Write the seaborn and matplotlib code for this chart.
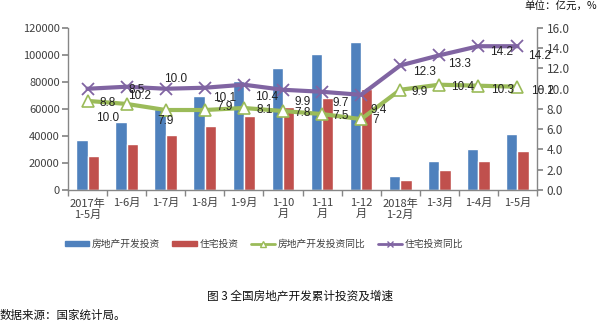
import matplotlib
matplotlib.use("Agg")
import matplotlib.pyplot as plt
from matplotlib.patches import Patch
from matplotlib.lines import Line2D
from matplotlib.ticker import FixedLocator, FormatStrFormatter
import seaborn as sns
import pandas as pd
import numpy as np

categories = ["2017年\n1-5月", "1-6月", "1-7月", "1-8月", "1-9月", "1-10\n月",
              "1-11\n月", "1-12\n月", "2018年\n1-2月", "1-3月", "1-4月", "1-5月"]
dev_invest = [37369, 50610, 59761, 69686, 80644, 90544, 100387, 109799, 10261, 21292, 30592, 41349]
res_invest = [25364, 34185, 40497, 47281, 54727, 61447, 68191, 75148, 7063, 14768, 21124, 29142]
dev_yoy = [8.8, 8.5, 7.9, 7.9, 8.1, 7.8, 7.5, 7.0, 9.9, 10.4, 10.3, 10.2]
res_yoy = [10.0, 10.2, 10.0, 10.1, 10.4, 9.9, 9.7, 9.4, 12.3, 13.3, 14.2, 14.2]
dev_yoy_labels = ["8.8", "8.5", "7.9", "7.9", "8.1", "7.8", "7.5", "7", "9.9", "10.4", "10.3", "10.2"]
res_yoy_labels = ["10.0", "10.2", "10.0", "10.1", "10.4", "9.9", "9.7", "9.4", "12.3", "13.3", "14.2", "14.2"]
series_names = ["房地产开发投资", "住宅投资", "房地产开发投资同比", "住宅投资同比"]

# label offsets in pixels (dx right, dy down)
dev_off = [(20, 2), (10, -14), (0, 11), (20, -3), (21, 2), (20, 2), (19, 2), (15, 1),
           (19, 2), (23, 2), (24, 4), (25, 4)]
res_off = [(20, 29), (13, 9), (10, -10), (20, 10), (23, 12), (20, 12), (19, 11), (18, 15),
           (24, 7), (20, 9), (23, 6), (22, 10)]

BLUE, RED, GREEN, PURPLE = "#4F81BD", "#C0504D", "#9BBB59", "#8064A2"
TXT = "#404040"
SPINE = "#868686"

sns.set_theme(style="white")
plt.rcParams["font.family"] = ["Noto Sans CJK SC", "DejaVu Sans"]

df = pd.DataFrame({
    "cat": categories * 2,
    "value": dev_invest + res_invest,
    "series": [series_names[0]] * 12 + [series_names[1]] * 12,
})

fig = plt.figure(figsize=(6.0, 3.23), dpi=100)
ax = fig.add_axes([68 / 600, 1 - 190 / 323, (537 - 68) / 600, (190 - 28) / 323])

sns.barplot(data=df, x="cat", y="value", hue="series", order=categories,
            hue_order=series_names[:2], palette=[BLUE, RED], width=0.58,
            saturation=1, ax=ax, legend=False)
ax.set_xlim(-0.5, 11.5)
ax.set_ylim(0, 120000)
ax.set_yticks(np.arange(0, 120001, 20000))
ax.set_xlabel("")
ax.set_ylabel("")

ax2 = ax.twinx()
x = np.arange(12)
sns.lineplot(x=x, y=dev_yoy, ax=ax2, color=GREEN, linewidth=3, marker="^",
             markersize=8, markerfacecolor="white", markeredgecolor=GREEN,
             markeredgewidth=1.2)
sns.lineplot(x=x, y=res_yoy, ax=ax2, color=PURPLE, linewidth=3, marker="x",
             markersize=8, markeredgecolor=PURPLE, markeredgewidth=1.3)
ax2.set_ylim(0, 16)
ax2.set_yticks(np.arange(0, 16.1, 2))
ax2.yaxis.set_major_formatter(FormatStrFormatter("%.1f"))
ax2.set_xlim(-0.5, 11.5)

for i in range(12):
    ax2.annotate(dev_yoy_labels[i], (x[i], dev_yoy[i]), xytext=(dev_off[i][0], -dev_off[i][1]),
                 textcoords="offset pixels", ha="center", va="center", fontsize=8.5,
                 color="#222222", family=["Liberation Sans", "DejaVu Sans"])
    ax2.annotate(res_yoy_labels[i], (x[i], res_yoy[i]), xytext=(res_off[i][0], -res_off[i][1]),
                 textcoords="offset pixels", ha="center", va="center", fontsize=8.5,
                 color="#222222", family=["Liberation Sans", "DejaVu Sans"])

for a in (ax, ax2):
    a.spines["top"].set_visible(False)
    for s in ("left", "right", "bottom"):
        a.spines[s].set_color(SPINE)
        a.spines[s].set_linewidth(1)
ax.spines["right"].set_visible(False)
ax2.spines["left"].set_visible(False)
ax2.spines["bottom"].set_visible(False)

ax.tick_params(axis="y", left=True, length=4, color=SPINE, labelsize=8, labelcolor=TXT, pad=2)
ax2.tick_params(axis="y", right=True, length=4, color=SPINE, labelsize=8.5, labelcolor=TXT, pad=3)
ax.tick_params(axis="x", which="major", length=0, labelsize=8, labelcolor=TXT, pad=6)
ax.xaxis.set_minor_locator(FixedLocator(np.arange(-0.5, 12, 1)))
ax.tick_params(axis="x", which="minor", bottom=True, length=4, color=SPINE)
for lbl in ax.get_xticklabels():
    lbl.set_linespacing(1.1)

handles = [
    Patch(facecolor=BLUE, edgecolor=BLUE),
    Patch(facecolor=RED, edgecolor=RED),
    Line2D([], [], color=GREEN, linewidth=2, marker="^", markersize=4,
           markerfacecolor="white", markeredgecolor=GREEN),
    Line2D([], [], color=PURPLE, linewidth=2, marker="x", markersize=4,
           markeredgecolor=PURPLE),
]
fig.legend(handles, series_names, loc="center", bbox_to_anchor=(264 / 600, 1 - 244 / 323),
           ncol=4, frameon=False, fontsize=7, handlelength=2.5, handleheight=0.45,
           columnspacing=1.3, handletextpad=0.25, labelcolor=TXT)

fig.text(300 / 600, 1 - 296 / 323, "图 3 全国房地产开发累计投资及增速", ha="center", va="center",
         fontsize=8.4, color="#111111")
fig.text(0, 1 - 315 / 323, "数据来源：国家统计局。", ha="left", va="center",
         fontsize=8.3, color="#111111")
fig.text(597 / 600, 1 - 7 / 323, "单位：亿元，%", ha="right", va="center",
         fontsize=7.6, color="#111111")

fig.savefig("out.png", dpi=100)
